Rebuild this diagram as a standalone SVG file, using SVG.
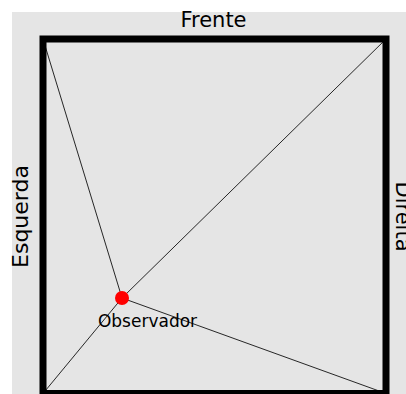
<svg xmlns="http://www.w3.org/2000/svg" width="406" height="394" viewBox="0 0 406 394">
<style>
.lbl{font-family:"DejaVu Sans",sans-serif;fill:#000}
.side{font-size:21px}
.conn line{stroke:#111;stroke-width:0.9}
</style>
<rect x="0" y="0" width="406" height="394" fill="#fff"/>
<rect x="12" y="12" width="394" height="382" fill="#e5e5e5"/>
<g id="connectors" class="conn">
<line x1="43" y1="39" x2="122" y2="298"/>
<line x1="386" y1="39" x2="122" y2="298"/>
<line x1="43" y1="393.5" x2="122" y2="298"/>
<line x1="386" y1="393.5" x2="122" y2="298"/>
</g>
<g id="room">
<rect x="43" y="39" width="343" height="354.5" fill="none" stroke="#000" stroke-width="7"/>
</g>
<g id="frente"><text class="lbl side" x="213.5" y="27" text-anchor="middle">Frente</text></g>
<g id="esquerda"><text class="lbl side" font-size="22" style="font-size:22px" text-anchor="middle" transform="translate(28,216.5) rotate(-90)">Esquerda</text></g>
<g id="direita"><text class="lbl side" text-anchor="middle" transform="translate(396,216.5) rotate(90)">Direita</text></g>
<g id="observador">
<circle cx="122" cy="298" r="7" fill="#ff0000"/>
<text class="lbl" x="147.5" y="327" font-size="17" text-anchor="middle">Observador</text>
</g>
</svg>
